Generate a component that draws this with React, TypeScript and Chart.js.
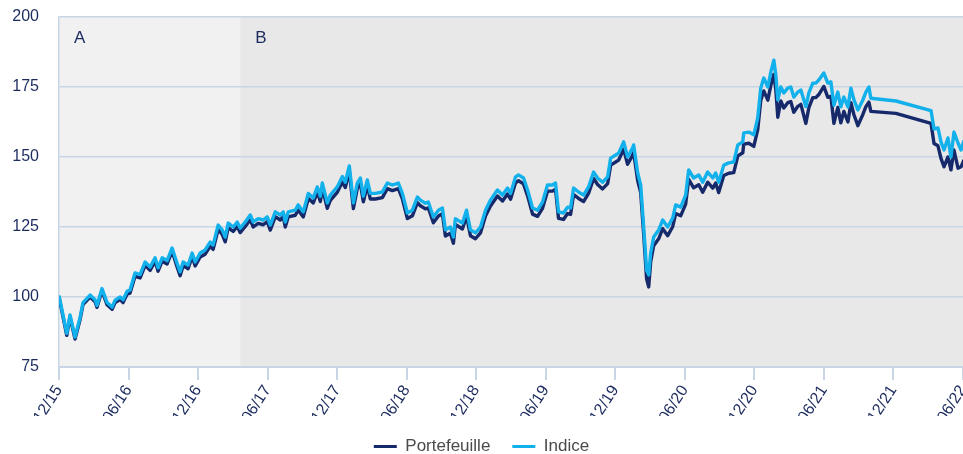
import React, { useEffect, useRef } from 'react';
import { Chart, registerables } from 'chart.js';

Chart.register(...registerables);

// x positions: months elapsed since December 2015
const tickLabels = ['12/15', '06/16', '12/16', '06/17', '12/17', '06/18', '12/18', '06/19', '12/19', '06/20', '12/20', '06/21', '12/21', '06/22'];

const months = [
  0, 0.67, 0.95, 1.38, 1.81, 2.07, 2.68, 3.11, 3.28, 3.71, 4.15, 4.58, 4.84, 5.27, 5.53, 5.87,
  6.13, 6.56, 7.0, 7.43, 7.86, 8.29, 8.55, 8.9, 9.33, 9.76, 10.19, 10.45, 10.71, 11.14, 11.49, 11.75,
  12.18, 12.61, 13.04, 13.3, 13.73, 14.08, 14.34, 14.6, 15.03, 15.38, 15.63, 16.07, 16.5, 16.76, 17.19, 17.62,
  17.97, 18.23, 18.66, 19.09, 19.35, 19.52, 19.78, 20.39, 20.64, 21.08, 21.51, 21.94, 22.29, 22.55, 22.72, 23.15,
  23.41, 24.01, 24.45, 24.7, 25.05, 25.4, 25.74, 26.0, 26.26, 26.6, 26.86, 27.3, 27.9, 28.33, 28.76, 29.28,
  29.63, 30.06, 30.49, 30.92, 31.18, 31.61, 31.87, 32.3, 32.74, 33.08, 33.34, 33.77, 34.03, 34.2, 34.81, 35.16,
  35.5, 35.93, 36.37, 36.8, 37.23, 37.83, 38.27, 38.7, 38.96, 39.39, 39.65, 40.08, 40.43, 40.86, 41.29, 41.72,
  42.15, 42.58, 42.84, 43.1, 43.53, 43.88, 44.14, 44.4, 44.83, 45.26, 45.69, 46.13, 46.47, 46.9, 47.34, 47.6,
  48.03, 48.29, 48.72, 49.06, 49.49, 49.58, 49.93, 50.19, 50.45, 50.7, 50.88, 51.05, 51.31, 51.74, 52.09, 52.52,
  52.95, 53.21, 53.64, 54.07, 54.33, 54.76, 55.2, 55.54, 55.97, 56.41, 56.66, 56.92, 57.36, 57.79, 58.22, 58.57,
  59.0, 59.08, 59.52, 59.95, 60.29, 60.55, 60.81, 61.16, 61.42, 61.68, 61.85, 62.02, 62.28, 62.54, 62.88, 63.14,
  63.4, 63.75, 64.01, 64.44, 64.7, 65.04, 65.3, 65.56, 65.99, 66.34, 66.6, 66.86, 67.2, 67.46, 67.72, 68.07,
  68.33, 68.59, 68.93, 69.36, 69.62, 69.88, 70.05, 72.21, 75.24, 75.5, 75.84, 76.1, 76.36, 76.7, 76.96, 77.22,
  77.57, 77.83, 78.09,
];

const indice = [
  100.5, 87, 93.6, 85.7, 92.5, 98, 100.7, 99, 97, 103, 98, 96.4, 98.9, 100, 99, 102,
  102.5, 108.6, 108, 112.5, 110.7, 114, 110.4, 114, 113, 117.5, 112, 109, 112.5, 111.4, 115.7, 112.5,
  115.7, 116.8, 119.6, 118.6, 125.7, 124, 121.4, 126.4, 125, 126.8, 124.6, 126.8, 129.3, 126.8, 128, 127.5,
  128.6, 125.7, 130.4, 129.3, 130.4, 126.8, 130.4, 131, 132.9, 130.4, 137, 135.4, 139.3, 136, 140.7, 133.6,
  136.4, 139.3, 143, 141, 146.8, 133.6, 140.7, 142.5, 136, 141.8, 137, 137, 137.5, 140.7, 140, 140.7,
  137, 130, 131, 135.7, 134.6, 133.5, 133.9, 128.6, 131, 131.8, 124, 125, 121.4, 128, 126.4, 131,
  124, 122.9, 125, 131, 134.6, 138.2, 136.4, 138.9, 137, 142.9, 143.6, 142.5, 138.2, 131.8, 131, 133.9,
  140, 140, 140.7, 130.4, 130, 132.1, 131.8, 138.9, 137.5, 136.4, 139.3, 144.6, 142.5, 141, 142.9, 149.6,
  150.7, 151.4, 155.4, 150, 153.2, 154.3, 144.3, 140, 125, 109.6, 107.9, 115.7, 121.4, 123.9, 127.5, 125,
  128.2, 132.9, 132.1, 136.4, 145.4, 142.5, 143.6, 141, 144.6, 142.5, 144.3, 141, 147.1, 147.9, 148.2, 154.3,
  155.4, 158.6, 158.9, 157.9, 164, 174.6, 178.2, 175, 180.4, 184.6, 179.3, 170.4, 175, 172.9, 174.6, 175,
  171.4, 173.2, 173.9, 168, 172.9, 176.4, 176.4, 177.5, 180, 176.4, 176.8, 168.5, 173.2, 167.9, 171.4, 167.9,
  174.6, 170.4, 166.8, 170.4, 173.2, 175, 171, 170, 166.6, 160, 160.4, 155.4, 152.5, 156.8, 150, 158.9,
  155, 152.5, 156,
];

const portefeuille = [
  100, 86.3, 92.9, 85, 91.8, 97.3, 100, 98.3, 96.3, 102.2, 97.2, 95.6, 98, 99.1, 98, 101,
  101.4, 107.4, 106.8, 111.3, 109.5, 112.8, 109.2, 112.8, 111.8, 116.3, 110.7, 107.6, 111.2, 110.1, 114.4, 111.1,
  114.3, 115.3, 118.1, 117, 124.1, 122.4, 119.7, 124.8, 123.4, 125.2, 123, 125.2, 127.6, 125, 126.3, 125.8,
  126.9, 123.9, 128.7, 127.5, 128.7, 125, 128.6, 129.2, 131.1, 128.6, 135.2, 133.6, 137.5, 134.1, 138.9, 131.7,
  134.5, 137.4, 141.1, 139.1, 144.9, 131.6, 138.8, 140.6, 134, 139.9, 135, 135, 135.5, 138.7, 138, 138.7,
  135, 128, 129, 133.7, 132.6, 131.5, 131.8, 126.5, 128.9, 129.7, 121.8, 122.8, 119.2, 125.9, 124.3, 128.9,
  121.9, 120.8, 122.9, 128.9, 132.5, 136.1, 134.3, 136.8, 134.9, 140.8, 141.5, 140.4, 136.1, 129.6, 128.8, 131.7,
  137.8, 137.8, 138.5, 128.1, 127.7, 129.8, 129.5, 136.6, 135.2, 134.1, 137, 142.3, 140.2, 138.6, 140.5, 147.1,
  148.2, 148.9, 152.8, 147.4, 150.6, 151.7, 141.6, 137.3, 122.3, 106.5, 103.6, 112.5, 118.3, 120.8, 124.4, 121.9,
  125.1, 129.8, 129, 133.2, 142, 139, 140.1, 137.4, 141, 138.9, 140.7, 137.3, 143.4, 144.2, 144.4, 150.4,
  151.5, 154.6, 154.9, 153.8, 159.8, 170.2, 173.6, 170.3, 175.6, 179.5, 174, 164.2, 170, 167.5, 169.4, 169.8,
  166, 168.1, 168.8, 162, 167.6, 171.2, 171.2, 172.3, 175.2, 171.3, 171.7, 162, 167.7, 162.2, 166.3, 162.5,
  169.4, 165.1, 161.2, 165.2, 168, 169.6, 166.3, 165.6, 162, 154.8, 154, 149.5, 146.5, 150, 145.4, 152.5,
  146, 146.5, 149,
];

const phaseLabels = ['A', 'B'];
const phaseStarts = [0, 15.63];
const phaseEnds = [15.63, 78];

const NAVY = '#1c2b5e';
const GRID = '#c8d5e5';
const FONT = '"Liberation Sans", Arial, Helvetica, sans-serif';
const PHASE_COLORS = ['#f1f1f1', '#e8e8e8'];

const phasePlugin = {
  id: 'phases',
  beforeDraw(chart: any) {
    const { ctx, chartArea, scales } = chart;
    const x = scales.x;
    ctx.save();
    phaseStarts.forEach((s, i) => {
      const x0 = x.getPixelForValue(s);
      const x1 = x.getPixelForValue(phaseEnds[i]);
      ctx.fillStyle = PHASE_COLORS[i];
      ctx.fillRect(x0, chartArea.top, x1 - x0, chartArea.bottom - chartArea.top);
    });
    ctx.restore();
  },
  beforeDatasetsDraw(chart: any) {
    const { ctx, chartArea, scales } = chart;
    const x = scales.x;
    ctx.save();
    ctx.fillStyle = NAVY;
    ctx.font = `17px ${FONT}`;
    ctx.textBaseline = 'middle';
    ctx.textAlign = 'left';
    phaseStarts.forEach((s, i) => {
      ctx.fillText(phaseLabels[i], x.getPixelForValue(s) + 15, chartArea.top + 21);
    });
    ctx.restore();
  },
};

export default function App() {
  const ref = useRef<HTMLCanvasElement | null>(null);

  useEffect(() => {
    document.body.style.margin = '0';
    document.documentElement.style.overflow = 'hidden';
    const canvas = ref.current;
    if (!canvas) return;
    Chart.defaults.font.family = FONT;
    const chart = new Chart(canvas, {
      type: 'line',
      data: {
        datasets: [
          {
            label: 'Indice',
            data: months.map((m, i) => ({ x: m, y: indice[i] })),
            borderColor: '#12b1ec',
            backgroundColor: '#12b1ec',
            borderWidth: 3.4,
            pointRadius: 0,
            tension: 0,
            borderJoinStyle: 'round',
          },
          {
            label: 'Portefeuille',
            data: months.map((m, i) => ({ x: m, y: portefeuille[i] })),
            borderColor: '#15296b',
            backgroundColor: '#15296b',
            borderWidth: 3.4,
            pointRadius: 0,
            tension: 0,
            borderJoinStyle: 'round',
          },
        ],
      },
      options: {
        animation: false,
        responsive: false,
        events: [],
        layout: { padding: { top: 17, left: 0, right: 0, bottom: 0 } },
        scales: {
          x: {
            type: 'linear',
            min: 0,
            max: 78,
            afterFit(scale: any) {
              scale.height = 49;
              scale.paddingRight = 0;
              scale.paddingLeft = 0;
            },
            grid: {
              drawOnChartArea: false,
              drawTicks: true,
              tickLength: 13,
              color: GRID,
              lineWidth: 2,
            },
            border: { display: true, color: GRID, width: 2 },
            ticks: {
              stepSize: 6,
              autoSkip: false,
              maxRotation: 57,
              minRotation: 57,
              padding: 2,
              color: NAVY,
              font: { size: 16, family: FONT },
              callback: (v: any) => tickLabels[Math.round(Number(v) / 6)] ?? '',
            },
          },
          y: {
            min: 75,
            max: 200,
            afterFit(scale: any) {
              scale.width = 59;
              scale.paddingTop = 0;
              scale.paddingBottom = 0;
            },
            grid: { color: GRID, lineWidth: 1.5, drawTicks: false },
            border: { display: true, color: GRID, width: 1.5 },
            ticks: {
              stepSize: 25,
              padding: 20,
              color: NAVY,
              font: { size: 16, family: FONT },
            },
          },
        },
        plugins: {
          tooltip: { enabled: false },
          legend: {
            position: 'bottom',
            reverse: true,
            labels: {
              boxWidth: 23,
              boxHeight: 3,
              padding: 22,
              color: '#4a4a4a',
              font: { size: 17, family: FONT },
              generateLabels: (c: any) =>
                (Chart.defaults.plugins.legend.labels as any)
                  .generateLabels(c)
                  .map((l: any) => ({ ...l, lineWidth: 0, fillStyle: l.strokeStyle })),
            },
          },
        },
      } as any,
      plugins: [phasePlugin],
    });
    return () => chart.destroy();
  }, []);

  return (
    <div style={{ width: 963, height: 454, overflow: 'hidden' }}>
      <canvas ref={ref} width={963} height={465} style={{ display: 'block' }} />
    </div>
  );
}
